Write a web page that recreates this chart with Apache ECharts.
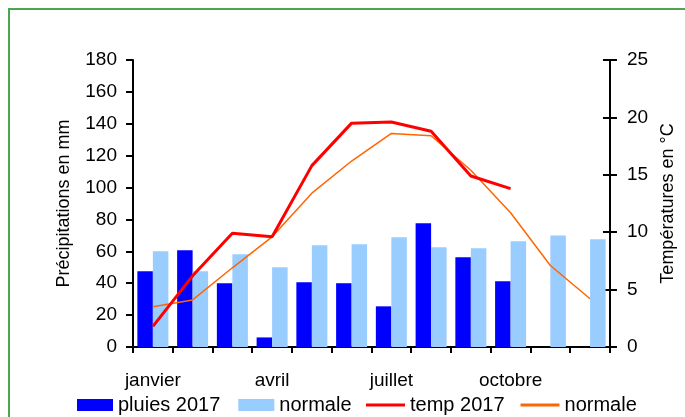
<!DOCTYPE html>
<html>
<head>
<meta charset="utf-8">
<script src="https://cdn.jsdelivr.net/npm/echarts@6/dist/echarts.min.js"></script>
<style>
  html, body { margin: 0; padding: 0; background: #fff; }
  #main { width: 685px; height: 417px; }
</style>
</head>
<body>
<div id="main"></div>
<script>
// mois
var mois = ['janvier', 'février', 'mars', 'avril', 'mai', 'juin',
            'juillet', 'août', 'septembre', 'octobre', 'novembre', 'décembre'];
// précipitations en mm
var pluies2017 = [47.5, 60.7, 40, 6, 40.6, 40, 25.5, 77.6, 56.3, 41.2, null, null];
var pluiesNormale = [60, 47.5, 58.2, 50, 63.8, 64.4, 68.8, 62.6, 61.9, 66.3, 70, 67.6];
// températures en °C
var temp2017 = [1.8, 6.2, 9.9, 9.6, 15.8, 19.5, 19.6, 18.8, 14.9, 13.8, null, null];
var tempNormale = [3.5, 4.1, 6.9, 9.6, 13.4, 16.2, 18.6, 18.4, 15.4, 11.7, 7.1, 4.2];

var chart = echarts.init(document.getElementById('main'));
var police = 'Liberation Sans, Arial, sans-serif';
var texteLegende = { fontSize: 20, color: '#000', fontFamily: police };

var option = {
    animation: false,
    textStyle: { fontFamily: police, color: '#000' },
    // cadre vert
    graphic: [{
        type: 'rect',
        shape: { x: 9, y: 9, width: 700, height: 430 },
        style: { fill: 'none', stroke: '#4ca64c', lineWidth: 2 },
        silent: true
    }],
    grid: { left: 133, right: 73, top: 60, bottom: 70 },
    legend: [
        {
            // légende des barres
            left: 77,
            top: 395,
            padding: 0,
            itemWidth: 36,
            itemHeight: 12,
            itemGap: 18,
            textStyle: texteLegende,
            icon: 'rect',
            data: ['pluies 2017', 'normale']
        },
        {
            // légende des courbes
            left: 366,
            top: 395,
            padding: 0,
            itemWidth: 39,
            itemHeight: 3,
            itemGap: 16,
            textStyle: texteLegende,
            icon: 'rect',
            data: ['temp 2017', 'normale ']
        }
    ],
    xAxis: {
        type: 'category',
        data: mois,
        axisLine: { lineStyle: { color: '#000', width: 2 } },
        axisTick: { show: true, interval: 0, length: 6, lineStyle: { color: '#000', width: 2 } },
        axisLabel: { interval: 2, fontSize: 19, color: '#000', margin: 24, fontFamily: police },
        splitLine: { show: false }
    },
    yAxis: [
        {
            type: 'value',
            position: 'left',
            min: 0, max: 180, interval: 20,
            name: 'Précipitations en mm',
            nameLocation: 'middle',
            nameGap: 60,
            nameTextStyle: { fontSize: 18, color: '#000', fontFamily: police },
            axisLine: { show: true, lineStyle: { color: '#000', width: 2 } },
            axisTick: { show: true, length: 7, lineStyle: { color: '#000', width: 2 } },
            axisLabel: { fontSize: 19, color: '#000', margin: 16, fontFamily: police },
            splitLine: { show: false }
        },
        {
            type: 'value',
            position: 'right',
            min: 0, max: 25, interval: 5,
            name: 'Températures en °C',
            nameLocation: 'middle',
            nameGap: 42,
            nameTextStyle: { fontSize: 18, color: '#000', fontFamily: police },
            axisLine: { show: true, lineStyle: { color: '#000', width: 2 } },
            axisTick: { show: true, length: 7, lineStyle: { color: '#000', width: 2 } },
            axisLabel: { fontSize: 19, color: '#000', margin: 17, fontFamily: police },
            splitLine: { show: false }
        },
        {
            // graduations intérieures de l'axe droit (croisées)
            type: 'value',
            position: 'right',
            min: 0, max: 25, interval: 5,
            axisLine: { show: false },
            axisTick: { show: true, inside: true, length: 7, lineStyle: { color: '#000', width: 2 } },
            axisLabel: { show: false },
            splitLine: { show: false }
        }
    ],
    series: [
        {
            name: 'pluies 2017',
            type: 'bar',
            data: pluies2017,
            yAxisIndex: 0,
            barGap: 0,
            barCategoryGap: '22%',
            itemStyle: { color: '#0000ff' }
        },
        {
            name: 'normale',
            type: 'bar',
            data: pluiesNormale,
            yAxisIndex: 0,
            barGap: 0,
            barCategoryGap: '22%',
            itemStyle: { color: '#99ccff' }
        },
        {
            name: 'temp 2017',
            type: 'line',
            data: temp2017,
            yAxisIndex: 1,
            symbol: 'none',
            connectNulls: false,
            lineStyle: { color: '#ff0000', width: 3 },
            itemStyle: { color: '#ff0000' },
            z: 4
        },
        {
            name: 'normale ',
            type: 'line',
            data: tempNormale,
            yAxisIndex: 1,
            symbol: 'none',
            lineStyle: { color: '#ff6600', width: 1.5 },
            itemStyle: { color: '#ff6600' },
            z: 3
        }
    ]
};

chart.setOption(option);
</script>
</body>
</html>
